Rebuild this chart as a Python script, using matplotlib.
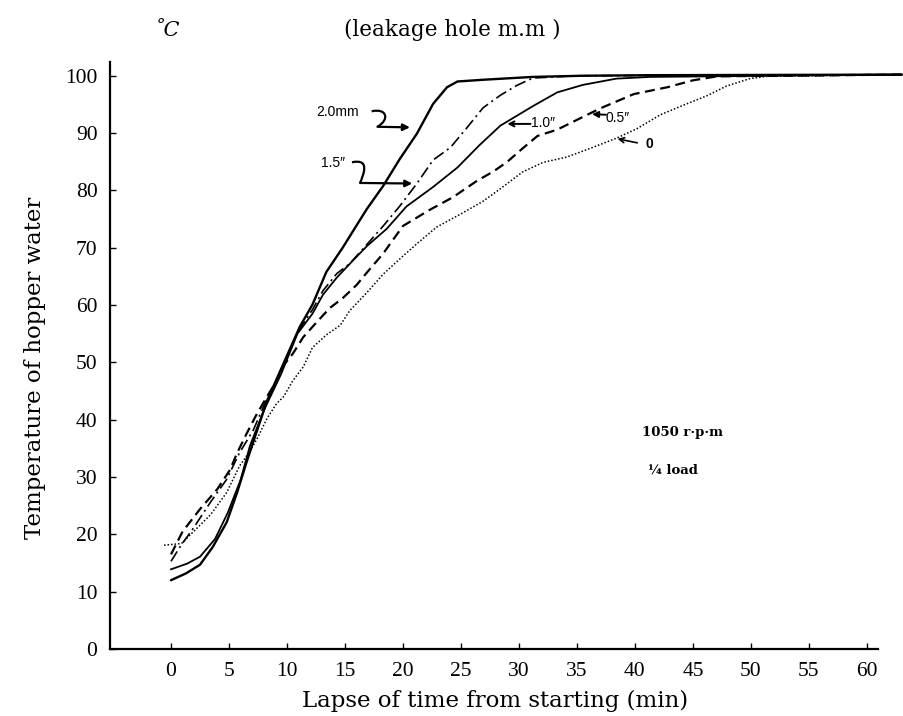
import matplotlib
matplotlib.use("Agg")
import matplotlib.pyplot as plt
from matplotlib.path import Path
from matplotlib.patches import PathPatch

# ---------------- data ----------------
t_20 = [0, 1.3, 2.5, 3.6, 4.8, 5.7, 6.5, 7.4, 8.3, 9.7, 11.1, 12.2, 13.4, 14.8, 16.0,
        16.9, 18.3, 19.7, 21.2, 22.6, 23.8, 24.7, 26.9, 31.2, 35.5, 41.3, 63]
v_20 = [12.0, 13.2, 14.7, 17.8, 22.1, 27.3, 32.5, 38.0, 43.4, 49.8, 56.2, 60.1, 65.8, 70.0, 73.9,
        76.8, 80.8, 85.4, 89.9, 95.1, 98.0, 99.0, 99.3, 99.8, 100.0, 100.1, 100.2]

t_15 = [0, 0.9, 1.9, 3.4, 4.8, 5.9, 7.1, 8.1, 9.5, 10.9, 12.2, 13.1, 14.3, 15.4, 16.9,
        18.3, 19.7, 21.2, 22.6, 24.1, 25.5, 26.9, 28.4, 29.8, 31.2, 35.0, 63]
v_15 = [15.3, 18.2, 21.0, 25.6, 29.6, 34.2, 38.2, 42.9, 48.5, 55.2, 59.2, 62.5, 65.5, 67.2, 70.6,
        73.8, 77.2, 81.2, 85.3, 87.5, 90.9, 94.4, 96.6, 98.3, 99.6, 100.0, 100.2]

t_10 = [0, 1.4, 2.5, 3.8, 4.9, 6.0, 6.8, 8.0, 9.5, 10.9, 12.2, 13.1, 14.3, 15.7, 16.9,
        18.6, 20.3, 22.6, 24.7, 26.6, 28.4, 31.2, 33.3, 35.5, 38.4, 41.3, 63]
v_10 = [13.9, 14.9, 16.1, 19.2, 23.8, 29.5, 35.4, 41.6, 48.0, 55.0, 58.5, 61.8, 64.8, 67.8, 70.3,
        73.3, 77.2, 80.6, 84.0, 87.9, 91.3, 94.7, 97.1, 98.4, 99.5, 99.8, 100.2]

t_05 = [0, 1.0, 2.5, 4.0, 5.1, 5.7, 6.5, 7.4, 8.3, 9.1, 9.7, 10.5, 11.4, 12.6, 13.7, 14.8,
        16.0, 16.9, 18.3, 20.0, 22.3, 24.3, 26.4, 27.8, 29.0, 30.3, 31.6, 33.3, 35.0, 37.0,
        39.9, 42.8, 45.0, 47.1, 63]
v_05 = [16.5, 20.5, 24.4, 27.9, 31.3, 34.2, 37.5, 41.0, 44.1, 46.8, 49.5, 51.5, 54.4, 57.1, 59.5, 61.2,
        63.5, 65.7, 69.0, 73.8, 76.6, 78.8, 81.7, 83.3, 85.0, 87.3, 89.5, 90.6, 92.3, 94.3,
        96.8, 98.0, 99.2, 99.9, 100.2]

t_00 = [-0.6, 0.9, 1.9, 3.4, 4.8, 5.9, 6.8, 7.4, 8.3, 9.1, 9.7, 10.5, 11.4, 12.2, 13.4, 14.6,
        15.4, 16.9, 18.3, 19.7, 21.2, 22.9, 24.9, 26.9, 28.4, 30.3, 32.1, 34.1, 36.1, 38.4,
        40.2, 42.2, 44.1, 46.2, 47.9, 49.9, 51.4, 63]
v_00 = [18.1, 18.4, 20.4, 23.4, 27.3, 31.9, 34.5, 36.6, 40.3, 42.8, 44.0, 46.8, 49.2, 52.6, 54.8, 56.5,
        59.0, 62.2, 65.4, 68.0, 70.7, 73.6, 75.8, 78.1, 80.3, 83.2, 84.9, 85.8, 87.3, 89.1,
        90.8, 93.2, 94.8, 96.5, 98.2, 99.5, 99.9, 100.2]

x_ticks = list(range(0, 61, 5))
y_ticks = list(range(0, 101, 10))

# ---------------- figure ----------------
fig = plt.figure(figsize=(9.04, 7.16), dpi=100)
ax = fig.add_axes([110/904, (716-649)/716, (904-110)/904, (649-62)/716])
ax.set_xlim(-5.26, 63.2)
ax.set_ylim(0, 102.4)

k = 'black'
ax.plot(t_20, v_20, color=k, lw=1.7, ls='-', solid_capstyle='round')
ax.plot(t_15, v_15, color=k, lw=1.2, ls=(0, (7, 2.5, 1.2, 2.5)))
ax.plot(t_10, v_10, color=k, lw=1.3, ls='-')
ax.plot(t_05, v_05, color=k, lw=1.6, ls=(0, (4.5, 2.5)))
ax.plot(t_00, v_00, color=k, lw=1.1, ls=(0, (1, 1.3)))

for s in ['top', 'right']:
    ax.spines[s].set_visible(False)
ax.spines['left'].set_linewidth(1.6)
ax.spines['bottom'].set_linewidth(1.6)
ax.spines['bottom'].set_bounds(-5.26, 61)

ax.set_xticks(x_ticks)
ax.set_yticks(y_ticks)
tickfont = dict(family='Liberation Serif', size=15.5)
ax.set_xticklabels([str(v) for v in x_ticks], fontdict=tickfont)
ax.set_yticklabels([str(v) for v in y_ticks], fontdict=tickfont)
ax.tick_params(axis='x', direction='in', length=4, width=1, pad=9)
ax.tick_params(axis='y', direction='in', length=4, width=1, pad=9)

# ---------------- labels ----------------
fig.text(495/904, 1-701/716, 'Lapse of time from starting (min)', ha='center', va='center',
         family='DejaVu Serif', fontsize=16.5)
fig.text(35/904, 1-368/716, 'Temperature of hopper water', ha='center', va='center',
         rotation=90, family='DejaVu Serif', fontsize=16.5)
fig.text(452/904, 1-30/716, '(leakage hole m.m )', ha='center', va='center',
         family='DejaVu Serif', fontsize=15.5)
fig.text(167/904, 1-30/716, '\u02daC', ha='center', va='center',
         family='DejaVu Serif', style='italic', fontsize=15)

# ---------------- annotations ----------------
af = dict(family='Liberation Sans', fontsize=10)
ax.text(14.4, 93.7, '2.0mm', ha='center', va='center', **af)
verts = [(17.3, 93.8), (18.6, 94.4), (18.9, 92.4), (17.8, 91.1)]
ax.add_patch(PathPatch(Path(verts, [Path.MOVETO, Path.CURVE4, Path.CURVE4, Path.CURVE4]),
                       fill=False, lw=1.6, color=k))
ax.annotate('', xy=(20.6, 91.0), xytext=(17.8, 91.1),
            arrowprops=dict(arrowstyle='-|>', lw=1.6, color=k, mutation_scale=10, shrinkA=0, shrinkB=0))

ax.text(14.0, 84.8, '1.5\u2033', ha='center', va='center', **af)
verts2 = [(15.6, 84.9), (17.2, 85.6), (16.6, 82.8), (16.3, 81.3)]
ax.add_patch(PathPatch(Path(verts2, [Path.MOVETO, Path.CURVE4, Path.CURVE4, Path.CURVE4]),
                       fill=False, lw=1.6, color=k))
ax.annotate('', xy=(20.8, 81.2), xytext=(16.3, 81.3),
            arrowprops=dict(arrowstyle='-|>', lw=1.6, color=k, mutation_scale=10, shrinkA=0, shrinkB=0))

ax.annotate('', xy=(29.0, 91.6), xytext=(31.0, 91.6),
            arrowprops=dict(arrowstyle='->', lw=1.4, color=k, mutation_scale=9, shrinkA=0, shrinkB=0))
ax.text(31.0, 91.8, '1.0\u2033', ha='left', va='center', **af)

ax.annotate('', xy=(36.3, 93.3), xytext=(37.5, 93.2),
            arrowprops=dict(arrowstyle='-|>', lw=1.4, color=k, mutation_scale=9, shrinkA=0, shrinkB=0))
ax.text(37.5, 92.7, '0.5\u2033', ha='left', va='center', **af)

ax.annotate('', xy=(38.5, 89.0), xytext=(40.2, 88.3),
            arrowprops=dict(arrowstyle='->', lw=1.2, color=k, mutation_scale=9, shrinkA=0, shrinkB=0))
ax.text(40.9, 88.1, '0', ha='left', va='center', family='Liberation Sans', fontsize=10, weight='bold')

ax.text(40.6, 37.7, '1050 r\u00b7p\u00b7m', ha='left', va='center',
        family='DejaVu Serif', fontsize=9.5, weight='bold')
ax.text(41.1, 31.2, '\u00bc load', ha='left', va='center',
        family='DejaVu Serif', fontsize=9.5, weight='bold')

fig.savefig('out.png', dpi=100)
